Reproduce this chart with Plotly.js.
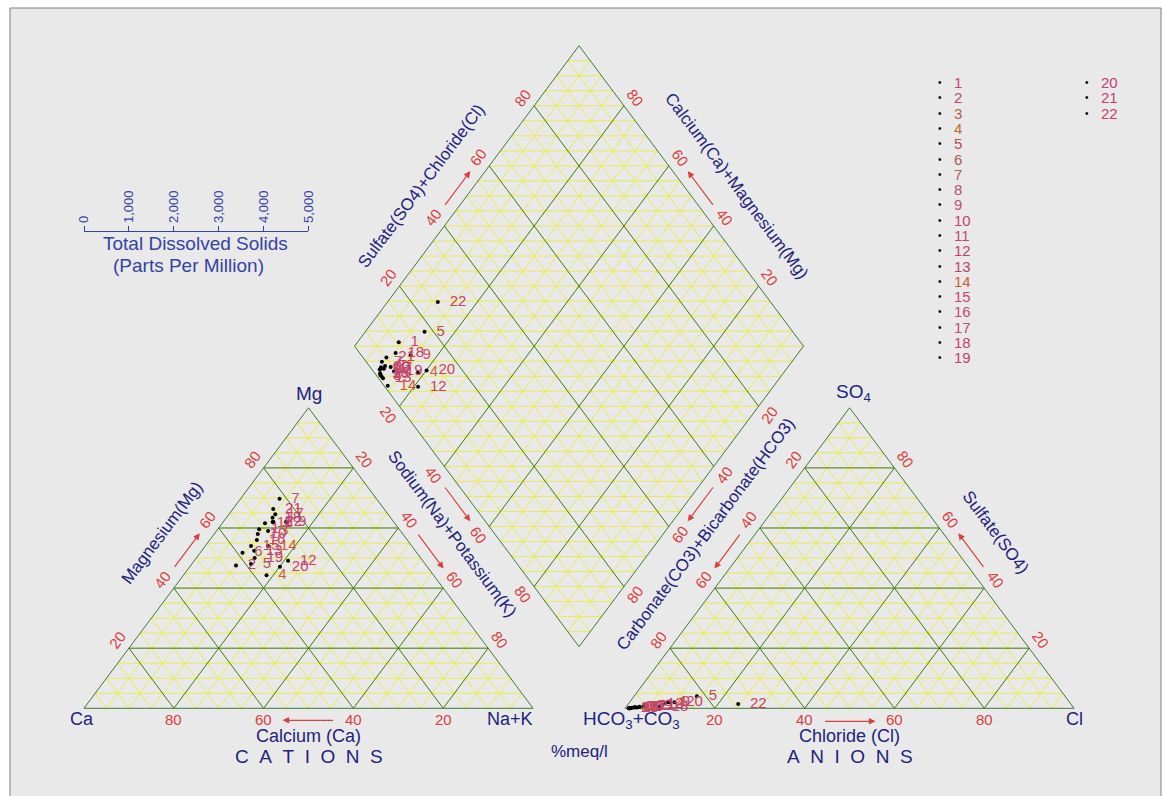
<!DOCTYPE html>
<html><head><meta charset="utf-8">
<script src="https://cdn.plot.ly/plotly-3.0.1.min.js"></script>
<style>html,body{margin:0;padding:0;background:#fff}#chart{width:1163px;height:796px}</style>
</head><body><div id="chart"></div>
<script>
// ---------------- data (percent of meq/l) ----------------
const samples = ['1','2','3','4','5','6','7','8','9','10','11','12','13','14','15','16','17','18','19','20','21','22'];
const mgPct   = [59.6,47.5,59.0,44.3,48.0,51.8,69.7,62.0,62.0,58.0,61.6,49.1,52.4,54.0,54.0,56.0,64.6,63.4,50.0,47.1,66.3,62.0];
const nakPct  = [9.2,10.1,11.5,18.5,13.2,9.4,8.7,11.0,14.0,9.7,9.5,20.9,11.7,14.0,10.2,10.5,10.3,10.3,13.0,20.1,9.0,11.2];
const clPct   = [8.5,3.0,4.0,8.0,14.0,2.0,3.0,1.0,9.0,2.0,1.5,6.0,1.0,0.8,1.2,1.0,2.5,7.5,3.8,10.0,4.5,24.5];
const so4Pct  = [2.0,0.5,0.6,1.7,4.0,0.4,0.5,0.0,2.0,0.3,0.2,1.4,0.0,0.0,0.0,0.0,0.3,0.5,0.8,2.0,0.7,1.4];
const gridTicks = [20,40,60,80];
const tdsTicks = [0,1000,2000,3000,4000,5000];

// ---------------- geometry ----------------
const S3 = 86.6025, GAP = 20.5;
const OXC = 0, OXA = 100 + GAP;
function tri(ox, r, t){ return [ox + 100*r + 50*t, S3*t]; }
const Bv = [100 + GAP/2, GAP/100*S3];
const Lv = [Bv[0]-50, Bv[1]+S3];
function dia(a, b){ return [Lv[0] + 50*a + 50*b, Lv[1] - S3*a + S3*b]; }

const FONT = 'Liberation Sans, Arial, sans-serif';
const NAVY = '#23237c', RED = '#d84040', BLUE = '#3442a4';
const labColors = ['#cc3f78','#b84a66','#b0604c','#c8682c','#b84e52','#ac5a58','#b45a66','#b4506a','#c4507a','#c44270','#c44a70','#c4406a','#c04068','#d05a30','#c84870','#c44a72','#c44a72','#c4406e','#c4406e','#c4406e','#c4406e','#c4406e'];

// ---------------- grid lines ----------------
const yx=[], yy=[], gx=[], gy=[];
function seg(X, Y, p, q){ X.push(p[0], q[0], null); Y.push(p[1], q[1], null); }
function triGrid(ox, X, Y, ks){
  ks.forEach(k => {
    seg(X, Y, tri(ox,0,k), tri(ox,1-k,k));
    seg(X, Y, tri(ox,k,0), tri(ox,k,1-k));
    seg(X, Y, tri(ox,1-k,0), tri(ox,0,1-k));
  });
}
const minorKs = []; for (let i=1;i<20;i++) minorKs.push(i/20);
const majorKs = [0, ...gridTicks.map(v=>v/100)];
[OXC, OXA].forEach(ox => { triGrid(ox, yx, yy, minorKs); triGrid(ox, gx, gy, majorKs); });
minorKs.forEach(k => { seg(yx, yy, dia(k,0), dia(k,1)); seg(yx, yy, dia(0,k), dia(1,k)); });
for (let i=-19;i<20;i++){ const d=i/20; seg(yx, yy, dia(Math.max(0,-d), Math.max(0,-d)+d), dia(Math.min(1,1-d), Math.min(1,1-d)+d)); }
[...majorKs, 1].forEach(k => { seg(gx, gy, dia(k,0), dia(k,1)); seg(gx, gy, dia(0,k), dia(1,k)); });

// ---------------- points ----------------
const cat = samples.map((s,i)=>tri(OXC, nakPct[i]/100, mgPct[i]/100));
const ani = samples.map((s,i)=>tri(OXA, clPct[i]/100, so4Pct[i]/100));
const dmd = samples.map((s,i)=>dia(nakPct[i]/100, (clPct[i]+so4Pct[i])/100));
const lbl = samples.map(s=>'\u00a0\u00a0'+s);
function ptTrace(P){
  return {type:'scatter', mode:'markers+text', x:P.map(p=>p[0]), y:P.map(p=>p[1]), text:lbl,
    textposition:'middle right', textfont:{family:FONT, size:15, color:labColors},
    marker:{color:'#000', size:4}, hoverinfo:'skip', showlegend:false, cliponaxis:false};
}
const traces = [
  {type:'scatter', mode:'lines', x:yx, y:yy, line:{color:'rgb(234,234,84)', width:1}, hoverinfo:'skip', showlegend:false},
  {type:'scatter', mode:'lines', x:gx, y:gy, line:{color:'rgb(62,122,52)', width:1}, hoverinfo:'skip', showlegend:false},
  ptTrace(cat), ptTrace(ani), ptTrace(dmd),
  {type:'scatter', x:[null], y:[null], xaxis:'x2', yaxis:'y', hoverinfo:'skip', showlegend:false}
];

// ---------------- annotations ----------------
const ann = [];
const ca = 0.5985, sa = 0.8011, ANG = 53.24;
const NUL=[-sa,-ca], NUR=[sa,-ca], NDL=[-sa,ca], NDR=[sa,ca], DN=[0,1];
function txt(p, text, n, d, ang, size, color, extra){
  ann.push(Object.assign({x:p[0], y:p[1], xref:'x', yref:'y', text, showarrow:false,
    xshift:n[0]*d, yshift:-n[1]*d, textangle:ang, font:{family:FONT, size, color},
    xanchor:'center', yanchor:'middle'}, extra||{}));
}
function arrow(p, n, d, u, len){
  ann.push({x:p[0], y:p[1], xref:'x', yref:'y', text:'', showarrow:true,
    xshift:n[0]*d + u[0]*len/2, yshift:-(n[1]*d + u[1]*len/2),
    ax:-u[0]*len, ay:-u[1]*len, arrowcolor:RED, arrowwidth:1.2, arrowhead:2, arrowsize:1.1});
}
// tick labels
gridTicks.forEach(v => {
  const k = v/100;
  txt(tri(OXC,k,0), String(100-v), DN, 11, 0, 15, RED);
  txt(tri(OXC,0,k), String(v), NUL, 14, -ANG, 15, RED);
  txt(tri(OXC,1-k,k), String(100-v), NUR, 14, ANG, 15, RED);
  txt(tri(OXA,k,0), String(v), DN, 11, 0, 15, RED);
  txt(tri(OXA,0,k), String(100-v), NUL, 14, -ANG, 15, RED);
  txt(tri(OXA,1-k,k), String(v), NUR, 14, ANG, 15, RED);
  txt(dia(0,k), String(v), NUL, 14, -ANG, 15, RED);
  txt(dia(k,1), String(100-v), NUR, 14, ANG, 15, RED);
  txt(dia(k,0), String(v), NDL, 14, ANG, 15, RED);
  txt(dia(1,k), String(100-v), NDR, 14, -ANG, 15, RED);
});
// arrows
arrow(tri(OXC,0.5,0), DN, 12, [-1,0], 52);
arrow(tri(OXC,0,0.5), NUL, 12, [ca,-sa], 44);
arrow(tri(OXC,0.5,0.5), NUR, 12, [ca,sa], 44);
arrow(tri(OXA,0.5,0), DN, 13, [1,0], 52);
arrow(tri(OXA,0,0.5), NUL, 12, [-ca,sa], 44);
arrow(tri(OXA,0.5,0.5), NUR, 12, [-ca,-sa], 44);
arrow(dia(0,0.5), NUL, 12, [ca,-sa], 44);
arrow(dia(0.5,1), NUR, 12, [-ca,-sa], 44);
arrow(dia(0.5,0), NDL, 12, [ca,sa], 44);
arrow(dia(1,0.5), NDR, 12, [-ca,sa], 44);
// axis titles
txt(tri(OXC,0,0.5), 'Magnesium(Mg)', NUL, 42, -ANG, 17, NAVY);
txt(tri(OXC,0.5,0.5), 'Sodium(Na)+Potassium(K)', NUR, 40, ANG, 17, NAVY);
txt(tri(OXA,0,0.5), 'Carbonate(CO3)+Bicarbonate(HCO3)', NUL, 40, -ANG, 17, NAVY);
txt(tri(OXA,0.5,0.5), 'Sulfate(SO4)', NUR, 42, ANG, 17, NAVY);
txt(dia(0,0.45), 'Sulfate(SO4)+Chloride(Cl)', NUL, 42, -ANG, 17, NAVY);
txt(dia(0.55,1), 'Calcium(Ca)+Magnesium(Mg)', NUR, 42, ANG, 17, NAVY);
txt(tri(OXC,0.5,0), 'Calcium (Ca)', DN, 28, 0, 18, NAVY);
txt(tri(OXA,0.5,0), 'Chloride (Cl)', DN, 28, 0, 18, NAVY);
const sp = '\u00a0\u00a0';
txt(tri(OXC,0.5,0), 'CATIONS'.split('').join(sp), DN, 48, 0, 19, NAVY);
txt(tri(OXA,0.5,0), 'ANIONS'.split('').join(sp), DN, 48, 0, 19, NAVY);
txt([Bv[0],0], '%meq/l', DN, 43, 0, 17, NAVY);
// vertex labels
txt(tri(OXC,0,0), 'Ca', [-1,0], 2, 0, 18, NAVY, {yshift:-11});
txt(tri(OXC,1,0), 'Na+K', [-1,0], 23, 0, 18, NAVY, {yshift:-11});
txt(tri(OXC,0,1), 'Mg', [0,-1], 14, 0, 19, NAVY);
txt(tri(OXA,0,0), 'HCO<sub>3</sub>+CO<sub>3</sub>', [1,0], 6, 0, 19, NAVY, {yshift:-12});
txt(tri(OXA,1,0), 'Cl', [0,1], 11, 0, 18, NAVY);
txt(tri(OXA,0,1), 'SO<sub>4</sub>', [0,-1], 15, 0, 19, NAVY, {xshift:4});

// TDS titles (paper)
function ptxt(px, py, text, size, color, xanchor){
  ann.push({x:px/1163, y:1-py/796, xref:'paper', yref:'paper', text, showarrow:false,
    font:{family:FONT, size, color}, xanchor:xanchor||'center', yanchor:'middle'});
}
ptxt(195, 243, 'Total Dissolved Solids', 19, BLUE);
ptxt(188, 265, '(Parts Per Million)', 19, BLUE);

// legend
samples.forEach((s,i) => {
  const col = i < 19 ? 0 : 1, row = i < 19 ? i : i-19;
  const dx = col ? 1087 : 940, py = 82.7 + row*15.28;
  ptxt(dx, py, '•', 10, '#000');
  ptxt(dx+12, py, s, 15, labColors[i], 'left');
});

const W=1163, H=796;
const layout = {
  width:W, height:H, margin:{l:0,r:0,t:0,b:0},
  paper_bgcolor:'#ffffff', plot_bgcolor:'rgba(0,0,0,0)', showlegend:false,
  xaxis:{range:[-84/4.49, (W-84)/4.49], visible:false, fixedrange:true},
  yaxis:{range:[(708.3-H)/3.47, 708.3/3.47], visible:false, fixedrange:true},
  xaxis2:{domain:[84/W, 308.3/W], anchor:'free', position:1-230.7/H, side:'top', range:[0,5000],
    tickvals:tdsTicks, tickformat:',d', tickangle:-90, ticks:'outside', ticklen:5, tickcolor:BLUE,
    showline:true, linecolor:BLUE, linewidth:1.2, showgrid:false, zeroline:false,
    tickfont:{family:FONT, size:13, color:BLUE}, fixedrange:true},
  shapes:[{type:'rect', xref:'paper', yref:'paper', x0:10/W, x1:1161/W, y0:-0.01, y1:1-8/H,
    fillcolor:'#e9e9e9', line:{color:'#808080', width:1}, layer:'below'}],
  annotations: ann
};
Plotly.newPlot('chart', traces, layout, {displayModeBar:false, staticPlot:true});
</script></body></html>
